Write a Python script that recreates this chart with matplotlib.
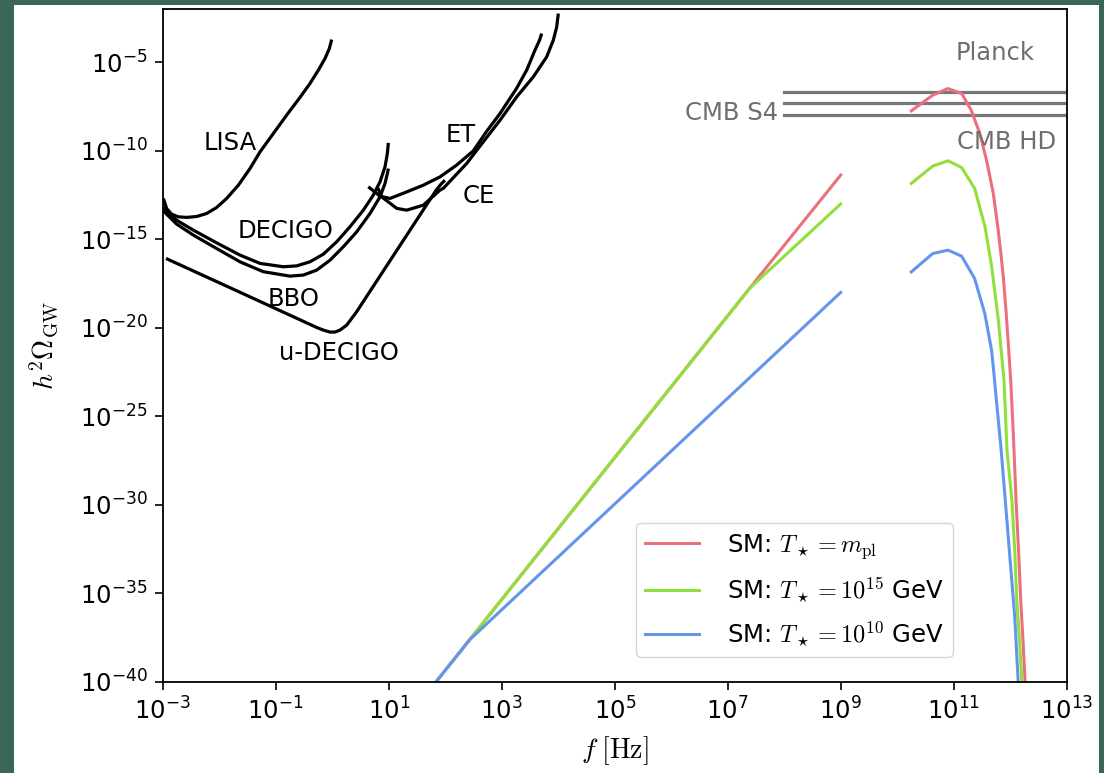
import numpy as np
import matplotlib
matplotlib.use("Agg")
import matplotlib.pyplot as plt
from matplotlib.patches import Rectangle

plt.rcParams['font.family'] = ['DejaVu Sans']
plt.rcParams['mathtext.fontset'] = 'cm'

# ---- data (log10 f [Hz], log10 h^2 Omega) ----
lisa_logf = [-2.989, -2.930, -2.841, -2.723, -2.576, -2.399, -2.222, -2.045, -1.868, -1.661,
             -1.455, -1.278, -1.042, -0.806, -0.570, -0.393, -0.245, -0.127, -0.051, -0.009]
lisa_logO = [-12.69, -13.26, -13.58, -13.73, -13.76, -13.71, -13.54, -13.20, -12.69, -11.94,
             -11.00, -10.06, -9.02, -7.98, -6.98, -6.19, -5.44, -4.78, -4.22, -3.71]

decigo_logf = [-2.989, -2.753, -2.458, -2.045, -1.632, -1.278, -0.865, -0.629, -0.393, -0.157,
               0.079, 0.315, 0.551, 0.728, 0.846, 0.935, 0.976, 0.994]
decigo_logO = [-13.20, -13.92, -14.48, -15.20, -15.89, -16.36, -16.55, -16.50, -16.27, -15.84,
               -15.14, -14.29, -13.35, -12.50, -11.75, -10.90, -10.15, -9.55]

bbo_logf = [-2.989, -2.753, -2.458, -2.045, -1.632, -1.219, -0.747, -0.511, -0.275, -0.039,
            0.197, 0.433, 0.669, 0.846, 0.935, 0.976, 0.994]
bbo_logO = [-13.39, -14.14, -14.76, -15.52, -16.27, -16.83, -17.08, -17.02, -16.74, -16.18,
            -15.42, -14.58, -13.54, -12.60, -11.84, -11.28, -11.0]

udecigo_logf = [-2.942, -1.455, -0.275, -0.157, -0.039, 0.050, 0.138, 0.256, 0.433, 1.849, 1.938, 1.996]
udecigo_logO = [-16.08, -18.25, -19.98, -20.13, -20.24, -20.24, -20.13, -19.85, -19.09, -12.18, -11.84, -11.66]

et_logf = [0.639, 0.846, 1.023, 1.319, 1.612, 1.908, 2.204, 2.497, 2.735, 2.970, 3.265, 3.442, 3.589, 3.669, 3.708]
et_logO = [-12.03, -12.56, -12.69, -12.32, -11.94, -11.47, -10.80, -10.0, -8.89, -7.89, -6.46, -5.44, -4.31, -3.75, -3.37]

ce_logf = [0.811, 0.876, 1.142, 1.319, 1.612, 1.908, 1.966, 2.381, 2.674, 2.970, 3.265, 3.559, 3.796, 3.913, 3.973, 4.002]
ce_logO = [-12.11, -12.60, -13.25, -13.35, -13.07, -12.22, -12.12, -10.71, -9.49, -8.27, -6.95, -5.82, -4.69, -3.75, -3.0, -2.24]

# SM spectra: low-frequency branch
red_low_logf = [1.59, 2.43, 7.39, 9.0]
red_low_logO = [-41.0, -37.64, -17.76, -11.37]
green_low_logf = [1.59, 2.43, 7.39, 9.0]
green_low_logO = [-41.0, -37.64, -17.76, -13.0]
blue_low_logf = [1.59, 2.43, 9.0]
blue_low_logO = [-41.0, -37.64, -18.0]

# SM spectra: high-frequency peak
red_hi_logf = [10.25, 10.63, 10.90, 11.14, 11.31, 11.46, 11.58, 11.70, 11.78, 11.832, 11.878, 11.925,
               11.966, 12.009, 12.055, 12.103, 12.147, 12.186, 12.226, 12.262, 12.28]
red_hi_logO = [-7.74, -6.85, -6.48, -6.76, -7.70, -9.00, -10.51, -12.39, -14.29, -15.71, -17.12, -19.0,
               -20.88, -22.96, -25.95, -29.73, -32.56, -35.38, -37.64, -39.9, -41.0]
green_hi_logf = [10.25, 10.63, 10.90, 11.14, 11.37, 11.554, 11.673, 11.731, 11.79, 11.89, 11.943,
                 12.03, 12.08, 12.115, 12.165, 12.204, 12.22]
green_hi_logO = [-11.84, -10.86, -10.56, -10.94, -12.12, -14.29, -16.55, -18.06, -19.56, -22.96, -26.91,
                 -29.73, -32.56, -35.38, -37.64, -39.9, -41.0]
blue_hi_logf = [10.25, 10.63, 10.90, 11.14, 11.37, 11.55, 11.67, 11.70, 11.84, 11.96, 12.08, 12.14, 12.16]
blue_hi_logO = [-16.84, -15.80, -15.61, -15.95, -17.21, -19.19, -21.26, -22.20, -26.91, -31.60, -36.33, -39.9, -41.0]

# CMB bounds (Planck, CMB S4, CMB HD)
cmb_logO = [-6.70, -7.32, -7.96]
cmb_logf_range = [8.0, 13.5]

legend_labels = [r'SM: $T_\star = m_{\rm pl}$',
                 r'SM: $T_\star = 10^{15}$ GeV',
                 r'SM: $T_\star = 10^{10}$ GeV']
sm_colors = ['#ec6f7c', '#8fe03c', '#6495ed']

det_labels = ['LISA', 'DECIGO', 'BBO', 'u-DECIGO', 'ET', 'CE']
det_label_logf = [-1.81, -0.82, -0.68, 0.12, 2.28, 2.60]
det_label_logO = [-9.57, -14.54, -18.38, -21.43, -9.11, -12.56]

cmb_labels = ['Planck', 'CMB S4', 'CMB HD']
cmb_label_logf = [11.73, 7.06, 11.93]
cmb_label_logO = [-4.48, -7.87, -9.51]

xticks_exp = list(range(-3, 14, 2))
yticks_exp = list(range(-40, -4, 5))

# ---- figure ----
W, H = 1104, 773
fig = plt.figure(figsize=(W / 100, H / 100), dpi=100, facecolor='#3a6656')
bg = Rectangle((14 / W, 0), (1099 - 14) / W, (H - 5) / H,
               transform=fig.transFigure, facecolor='white',
               edgecolor='none', zorder=-10)
fig.patches.append(bg)
ax = fig.add_axes([162.7 / W, 1 - 681.7 / H, (1066.7 - 162.7) / W, (681.7 - 9.3) / H])
ax.set_zorder(5)
ax.set_xscale('log')
ax.set_yscale('log')

P = lambda a: 10.0 ** np.asarray(a)

for lf, lo in [(lisa_logf, lisa_logO), (decigo_logf, decigo_logO), (bbo_logf, bbo_logO),
               (udecigo_logf, udecigo_logO), (et_logf, et_logO), (ce_logf, ce_logO)]:
    ax.plot(P(lf), P(lo), color='black', lw=2.3, solid_capstyle='butt', solid_joinstyle='round')

for lo in cmb_logO:
    ax.plot(P(cmb_logf_range), P([lo, lo]), color='#777777', lw=2.3)

lows = [(red_low_logf, red_low_logO), (green_low_logf, green_low_logO), (blue_low_logf, blue_low_logO)]
highs = [(red_hi_logf, red_hi_logO), (green_hi_logf, green_hi_logO), (blue_hi_logf, blue_hi_logO)]
handles = []
for (lf, lo), (hf, ho), c, lab in zip(lows, highs, sm_colors, legend_labels):
    h, = ax.plot(P(lf), P(lo), color=c, lw=2.2, label=lab)
    ax.plot(P(hf), P(ho), color=c, lw=2.2)
    handles.append(h)

for t, lf, lo in zip(det_labels, det_label_logf, det_label_logO):
    ax.text(10 ** lf, 10 ** lo, t, fontsize=17.5, ha='center', va='center', color='black')
for t, lf, lo in zip(cmb_labels, cmb_label_logf, cmb_label_logO):
    ax.text(10 ** lf, 10 ** lo, t, fontsize=17.5, ha='center', va='center', color='#6e6e6e')

ax.set_xlim(1e-3, 1e13)
ax.set_ylim(1e-40, 1e-2)
ax.set_xticks([10.0 ** k for k in xticks_exp])
ax.set_yticks([10.0 ** k for k in yticks_exp])
ax.minorticks_off()
ax.tick_params(labelsize=17.5, length=6, width=1.2, pad=5)
for s in ax.spines.values():
    s.set_linewidth(1.3)

ax.set_xlabel(r'$f\;[\mathrm{Hz}]$', fontsize=20, labelpad=7)
ax.set_ylabel(r'$h^2\Omega_{\rm GW}$', fontsize=20, labelpad=14)

ax.legend(handles=handles, loc='lower left', bbox_to_anchor=(0.5236, 0.0367),
          borderaxespad=0, fontsize=17.5, handlelength=2.26, handletextpad=1.15,
          labelspacing=0.6, borderpad=0.35, framealpha=0.8)

fig.savefig('out.png', dpi=100, facecolor=fig.get_facecolor())
